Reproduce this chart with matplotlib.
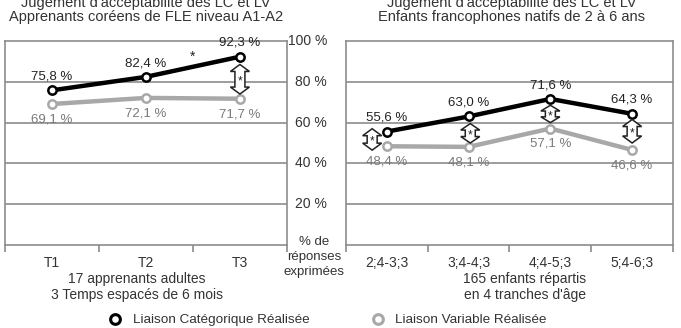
import matplotlib
matplotlib.use("Agg")
import matplotlib.pyplot as plt
from matplotlib.lines import Line2D
from matplotlib.patches import Polygon

plt.rcParams['font.family'] = ['Liberation Sans', 'DejaVu Sans']

# ---- data ----
left_categories = ["T1", "T2", "T3"]
left_lc = [75.8, 82.4, 92.3]
left_lv = [69.1, 72.1, 71.7]

right_categories = ["2;4-3;3", "3;4-4;3", "4;4-5;3", "5;4-6;3"]
right_lc = [55.6, 63.0, 71.6, 64.3]
right_lv = [48.4, 48.1, 57.1, 46.6]

y_ticks = [20, 40, 60, 80, 100]
y_tick_labels = ["20 %", "40 %", "60 %", "80 %", "100 %"]

left_title = "Jugement d'acceptabilité des LC et LV\nApprenants coréens de FLE niveau A1-A2"
right_title = "Jugement d'acceptabilité des LC et LV\nEnfants francophones natifs de 2 à 6 ans"
left_note = "17 apprenants adultes\n3 Temps espacés de 6 mois"
right_note = "165 enfants répartis\nen 4 tranches d'âge"
y_unit_label = "% de\nréponses\nexprimées"
series_names = ["Liaison Catégorique Réalisée", "Liaison Variable Réalisée"]

# significance arrows: (category index, x shift, top %, bottom %)
left_arrows = [(2, 0.0, 88.5, 74.0)]
right_arrows = [(0, -0.18, 57.0, 46.5), (1, 0.02, 59.5, 50.0),
                (2, 0.0, 68.5, 60.0), (3, 0.0, 61.5, 50.0)]

W, H = 681, 328
fig = plt.figure(figsize=(W / 100, H / 100), dpi=100)

BLACK = "#000000"
GRAY_LINE = "#a8a8a8"
GRAY_TXT = "#7a7a7a"
GRID = "#8c8c8c"
TXT = "#333333"

y_top_px, y_bot_px = 41, 245


def make_axes(x0, x1):
    return fig.add_axes([x0 / W, (H - y_bot_px) / H, (x1 - x0) / W, (y_bot_px - y_top_px) / H])


def fmt(v):
    return f"{v:.1f}".replace(".", ",") + " %"


def draw_arrow(ax, x, top, bot, px_per_x, px_per_y):
    hw = 9.5 / px_per_x
    sw = 5.0 / px_per_x
    hl = min(7.0, (top - bot) * px_per_y / 3) / px_per_y
    verts = [(x, top), (x + hw, top - hl), (x + sw, top - hl), (x + sw, bot + hl),
             (x + hw, bot + hl), (x, bot), (x - hw, bot + hl), (x - sw, bot + hl),
             (x - sw, top - hl), (x - hw, top - hl)]
    ax.add_patch(Polygon(verts, closed=True, facecolor="white", edgecolor="#222222",
                         linewidth=1.1, zorder=5))
    ax.text(x, (top + bot) / 2 - 1.0, "*", ha="center", va="center", fontsize=8.5,
            color="#222222", zorder=6)


def setup(ax, cats, lc, lv, arrows, x0, x1):
    n = len(cats)
    xs = list(range(n))
    ax.set_xlim(-0.5, n - 0.5)
    ax.set_ylim(0, 100)
    for y in [20, 40, 60, 80]:
        ax.axhline(y, color=GRID, linewidth=1.2, zorder=1)
    for s in ax.spines.values():
        s.set_color(GRID)
        s.set_linewidth(1.2)
    ax.set_xticks([i - 0.5 for i in range(n + 1)])
    ax.set_xticklabels([])
    ax.set_xticks(xs, minor=True)
    ax.set_xticklabels(cats, minor=True, fontsize=10, color=TXT)
    ax.tick_params(axis="x", which="major", length=5, color=GRID, width=1.2)
    ax.tick_params(axis="x", which="minor", length=0, pad=7.8)
    ax.set_yticks([])
    ax.plot(xs, lv, color=GRAY_LINE, linewidth=3.2, marker="o", markersize=6,
            markerfacecolor="white", markeredgecolor=GRAY_LINE, markeredgewidth=1.8, zorder=3)
    ax.plot(xs, lc, color=BLACK, linewidth=3.2, marker="o", markersize=6,
            markerfacecolor="white", markeredgecolor=BLACK, markeredgewidth=1.8, zorder=4)
    for x, v in zip(xs, lc):
        ax.annotate(fmt(v), (x, v), xytext=(0, 10), textcoords="offset points",
                    ha="center", va="center", fontsize=9.5, color="#222222")
    for x, v in zip(xs, lv):
        ax.annotate(fmt(v), (x, v), xytext=(0, -11), textcoords="offset points",
                    ha="center", va="center", fontsize=9.5, color=GRAY_TXT)
    px_per_x = (x1 - x0) / n
    px_per_y = (y_bot_px - y_top_px) / 100
    for (i, dx, top, bot) in arrows:
        draw_arrow(ax, i + dx, top, bot, px_per_x, px_per_y)


# left panel
axL = make_axes(4.5, 287)
setup(axL, left_categories, left_lc, left_lv, left_arrows, 4.5, 287)
axL.text(1.5, 92.5, "*", ha="center", va="center", fontsize=10, color="#222222")

for t, lab in zip(y_ticks, y_tick_labels):
    fig.text(327 / W, 1 - (y_bot_px - t * 2.04) / H, lab, ha="right", va="center",
             fontsize=10, color=TXT)
fig.text(314 / W, 1 - 257 / H, y_unit_label, ha="center", va="center", fontsize=9.5,
         color=TXT, linespacing=1.3)

# right panel
axR = make_axes(346, 673)
setup(axR, right_categories, right_lc, right_lv, right_arrows, 346, 673)

# titles
fig.text(146 / W, 1 - 10 / H, left_title, ha="center", va="center", fontsize=10.5,
         color=TXT, linespacing=1.05)
fig.text(512 / W, 1 - 10 / H, right_title, ha="center", va="center", fontsize=10.5,
         color=TXT, linespacing=1.05)

# notes below axes
fig.text(137 / W, 1 - 287 / H, left_note, ha="center", va="center", fontsize=10,
         color=TXT, linespacing=1.2)
fig.text(525 / W, 1 - 287 / H, right_note, ha="center", va="center", fontsize=10,
         color=TXT, linespacing=1.2)

# legend
handles = [
    Line2D([], [], linestyle="none", marker="o", markersize=7, markerfacecolor="white",
           markeredgecolor=BLACK, markeredgewidth=2.2),
    Line2D([], [], linestyle="none", marker="o", markersize=7, markerfacecolor="white",
           markeredgecolor=GRAY_LINE, markeredgewidth=2.2),
]
fig.legend(handles, series_names, loc="center", bbox_to_anchor=(327.5 / W, 1 - 320 / H),
           ncol=2, frameon=False, fontsize=9.7, handlelength=1.0, handletextpad=0.8,
           columnspacing=4.6, labelcolor=TXT, borderpad=0.1)

fig.savefig("out.png", dpi=100)
